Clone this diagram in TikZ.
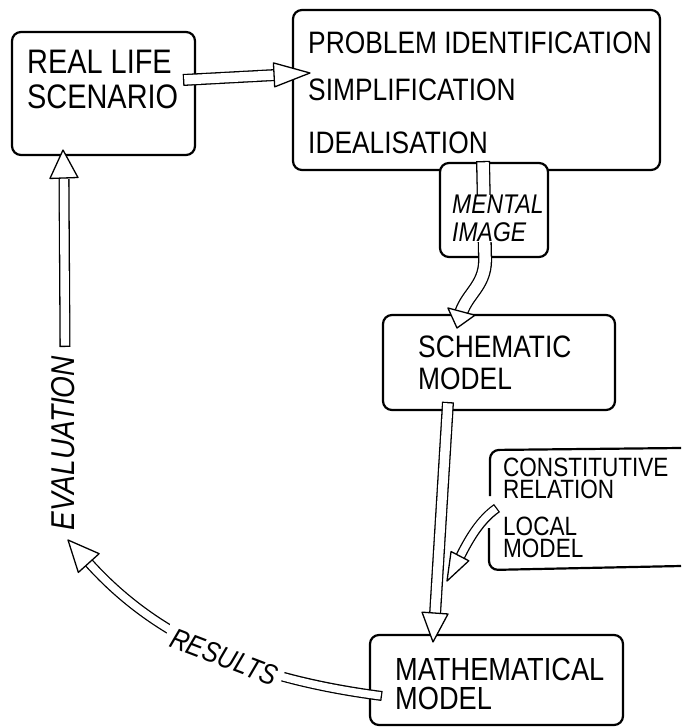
\documentclass[tikz,border=0pt]{standalone}
\usepackage{fontspec}
\newfontfamily\hand[FakeStretch=0.85]{Liberation Sans}
\newcommand\fs[2]{\fontsize{#1pt}{#2pt}\selectfont}
\tikzset{
  frame/.style={draw, line width=2.2pt, rounded corners=9pt, outer sep=0pt, inner sep=0pt, anchor=north west},
  lbl/.style={align=left, inner sep=0pt, anchor=north west},
  hout/.style={line width=#1, line join=round},
  hin/.style={white, line width=#1-2.6pt, shorten <=1.3pt},
  hhead/.style={draw, fill=white, line width=1.3pt, line join=round}
}
\newcommand\hshaft[2]{\draw[hout=#1] #2; \draw[hin=#1] #2;}
\newcommand\ahead[4]{\draw[hhead, shift={(#1)}, rotate=#2] (0,0) -- (-#3,#4) -- (-#3,-#4) -- cycle;}
\begin{document}
\begin{tikzpicture}[x=1pt, y=-1pt]
\useasboundingbox (0,0) rectangle (681,727);

\node[frame, minimum width=183pt, minimum height=123pt] (real) at (12,32) {};
\node[frame, minimum width=367pt, minimum height=160pt] (prob) at (293,10) {};
\node[frame, minimum width=232pt, minimum height=95pt] (schem) at (383,315) {};
\node[frame, minimum width=253pt, minimum height=90pt] (math) at (370,635) {};
\draw[line width=2.2pt, rounded corners=9pt] (681,448) -- (490,450) -- (490,496);
\draw[line width=2.2pt, rounded corners=9pt] (489,528) -- (489,570) -- (681,566);
\node[frame, fill=white, minimum width=108pt, minimum height=94pt] (mental) at (440,163) {};

% hollow arrows
\coordinate (r1) at (183,80); \coordinate (r2) at (276,75); \coordinate (r3) at (310,73);
\hshaft{12pt}{(r1) -- (r2)}
\ahead{r3}{3}{36}{12}

\coordinate (m1) at (483,161); \coordinate (m2) at (461,313); \coordinate (m3) at (457,328);
\hshaft{14pt}{(m1) -- (485,255) .. controls (487,285) and (468,292) .. (m2)}
\ahead{m3}{-105}{17}{14}

\coordinate (s1) at (448,402); \coordinate (s2) at (435,615); \coordinate (s3) at (433,642);
\hshaft{12pt}{(s1) -- (s2)}
\ahead{s3}{-94}{29}{13}

\coordinate (c1) at (497,508); \coordinate (c2) at (460,557); \coordinate (c3) at (447,581);
\hshaft{10pt}{(c1) .. controls (480,520) and (469,539) .. (c2)}
\ahead{c3}{-117.5}{28}{10}

\coordinate (x1) at (382,696); \coordinate (x2) at (89,563); \coordinate (x3) at (68,540);
\hshaft{10pt}{(x1) .. controls (260,680) and (162,644) .. (x2)}
\ahead{x3}{132}{31}{14}

\coordinate (e1) at (65,347); \coordinate (e2) at (64,179); \coordinate (e3) at (63,150);
\hshaft{11pt}{(e1) -- (e2)}
\ahead{e3}{92}{28}{14}

% texts
\node[lbl, font=\hand\fs{34}{35}] (realtxt) at ([shift={(15,18)}]real.north west) {REAL LIFE\\SCENARIO};
\node[lbl, font=\hand\fs{31}{47}] (probtxt) at ([shift={(15,22)}]prob.north west) {PROBLEM IDENTIFICATION\\SIMPLIFICATION\\[6pt]IDEALISATION};
\node[lbl, fill=white, font=\hand\itshape\fs{27}{28}] (mentaltxt) at ([shift={(12,32)}]mental.north west) {MENTAL\\IMAGE};
\node[lbl, font=\hand\fs{31}{32}] (schemtxt) at ([shift={(35,21)}]schem.north west) {SCHEMATIC\\MODEL};
\node[lbl, font=\hand\fs{26.5}{22}] (constit) at (503,458) {CONSTITUTIVE\\RELATION\\[15pt]LOCAL\\MODEL};
\node[lbl, font=\hand\fs{32}{29}] (mathtxt) at ([shift={(25,23)}]math.north west) {MATHEMATICAL\\MODEL};
\node[font=\hand\itshape\fs{33}{33}, rotate=90, inner sep=0pt] (eval) at (63,443) {EVALUATION};
\node[font=\hand\itshape\fs{29}{29}, rotate=-21, fill=white, inner xsep=6pt, inner ysep=2pt] (results) at (224,657) {RESULTS};
\end{tikzpicture}
\end{document}
